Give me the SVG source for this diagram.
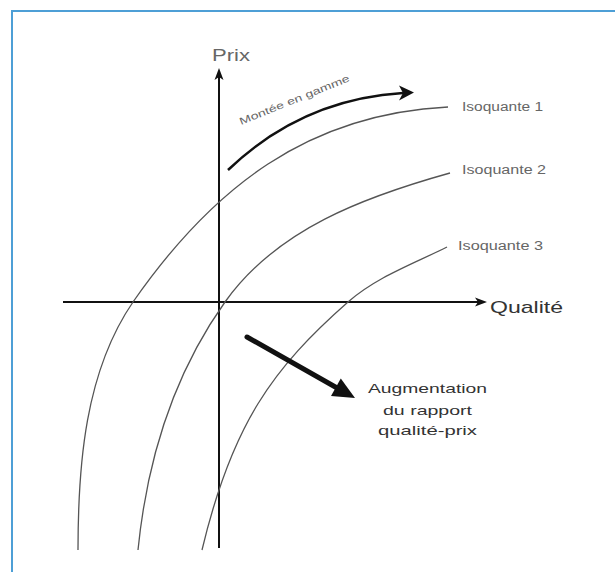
<svg xmlns="http://www.w3.org/2000/svg" width="615" height="572" viewBox="0 0 615 572">
  <style>
    .axis { stroke: #111; stroke-width: 2; fill: none; }
    .head { fill: #111; stroke: none; }
    .iso { stroke: #555; stroke-width: 1.3; fill: none; }
    .lbl { font-family: "Liberation Sans", Arial, sans-serif; fill: #333; }
    .small { fill: #666; }
  </style>
  <rect x="0" y="0" width="615" height="572" fill="#fff"/>
  <rect id="frame" x="12" y="11" width="700" height="700" fill="none" stroke="#4d9fd6" stroke-width="2"/>

  <g id="axes">
    <line class="axis" x1="219" y1="548" x2="219" y2="74"/>
    <polygon class="head" points="219,68 223.5,80 219,77 214.5,80"/>
    <line class="axis" x1="63" y1="302" x2="481" y2="302"/>
    <polygon class="head" points="487,302 475,297.5 478,302 475,306.5"/>
    <text class="lbl small" x="212" y="61" font-size="17" textLength="38" lengthAdjust="spacingAndGlyphs">Prix</text>
    <text class="lbl" x="490" y="313" font-size="17" textLength="73" lengthAdjust="spacingAndGlyphs">Qualité</text>
  </g>

  <g id="isoquante-1">
    <path class="iso" d="M78,550 C78,465 85,372 133,302 C213,187 308,114 448,107"/>
    <text class="lbl small" x="462" y="111" font-size="12" textLength="81" lengthAdjust="spacingAndGlyphs">Isoquante 1</text>
  </g>
  <g id="isoquante-2">
    <path class="iso" d="M138,550 C147,460 173,375 225,302 C277,229 364,197 450,173"/>
    <text class="lbl small" x="462" y="174" font-size="12" textLength="84" lengthAdjust="spacingAndGlyphs">Isoquante 2</text>
  </g>
  <g id="isoquante-3">
    <path class="iso" d="M202,550 C232,424 273,368 348,302 C376.5,277 413,264 447,247"/>
    <text class="lbl small" x="458" y="250" font-size="12" textLength="85" lengthAdjust="spacingAndGlyphs">Isoquante 3</text>
  </g>

  <g id="connectors">
    <g id="montee-en-gamme">
      <path d="M228,170 C278,122 338,97 403,93" stroke="#111" stroke-width="2.5" fill="none"/>
      <polygon class="head" points="414,92.5 399,85.5 403,93 399,100.5"/>
      <text class="lbl small" x="241" y="125" font-size="10" textLength="118" lengthAdjust="spacingAndGlyphs" transform="rotate(-22 241 125)">Montée en gamme</text>
    </g>
    <g id="augmentation">
      <line x1="247" y1="337" x2="338" y2="388.5" stroke="#111" stroke-width="5" stroke-linecap="round"/>
      <polygon class="head" points="355,398 340.8,378.5 331,395.9"/>
    </g>
  </g>

  <g id="augmentation-label">
    <text class="lbl" x="427.5" y="393" font-size="13" text-anchor="middle" textLength="119" lengthAdjust="spacingAndGlyphs">Augmentation</text>
    <text class="lbl" x="427.5" y="415" font-size="13" text-anchor="middle" textLength="89" lengthAdjust="spacingAndGlyphs">du rapport</text>
    <text class="lbl" x="427.5" y="435" font-size="13" text-anchor="middle" textLength="99" lengthAdjust="spacingAndGlyphs">qualité-prix</text>
  </g>
</svg>
